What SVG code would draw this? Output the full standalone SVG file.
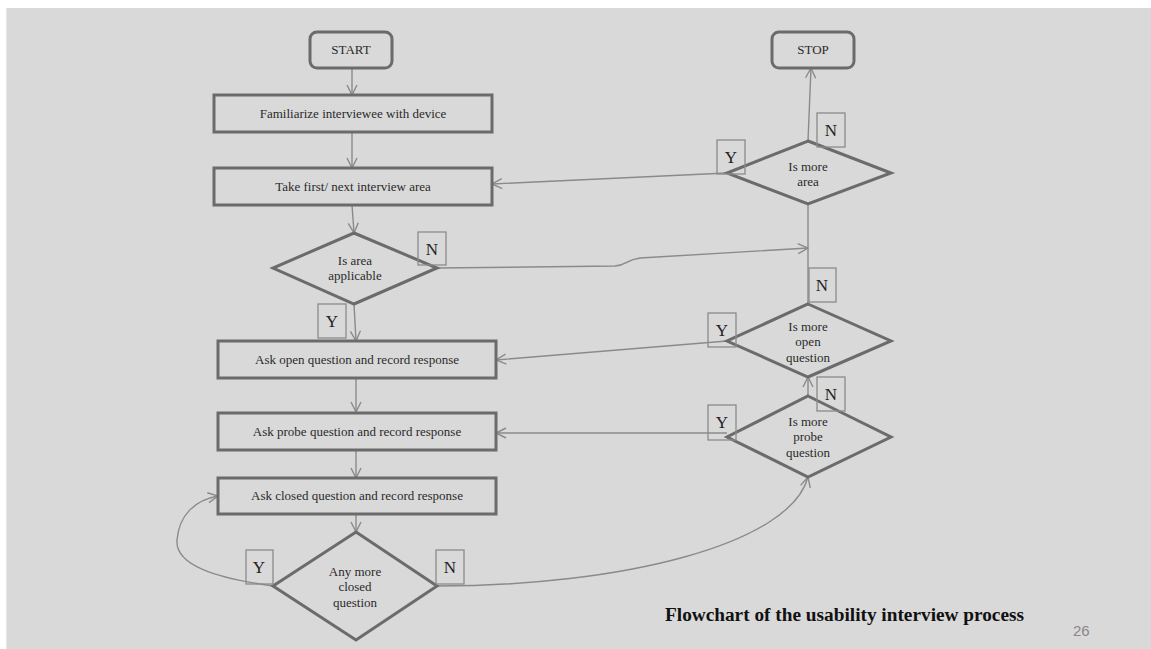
<svg xmlns="http://www.w3.org/2000/svg" width="1151" height="649" viewBox="0 0 1151 649">
<style>
.bg{fill:#d9d9d9}
.box{fill:none;stroke:#6b6b6b;stroke-width:3}
.dia{fill:none;stroke:#6b6b6b;stroke-width:3;stroke-linejoin:miter}
.lbl{fill:none;stroke:#8a8a8a;stroke-width:1.3}
.t{font-family:"Liberation Serif","Times New Roman",serif;font-size:13px;fill:#2a2a2a;text-anchor:middle}
.yn{font-family:"Liberation Serif","Times New Roman",serif;font-size:17px;fill:#222;text-anchor:middle}
.c{fill:none;stroke:#8a8a8a;stroke-width:1.4;marker-end:url(#ah)}
</style>
<defs>
<marker id="ah" viewBox="0 0 12 12" refX="11" refY="6" markerWidth="12" markerHeight="12" markerUnits="userSpaceOnUse" orient="auto">
<path d="M1,1 L11,6 L1,11" fill="none" stroke="#8a8a8a" stroke-width="1.4"/>
</marker>
</defs>
<rect class="bg" x="6" y="8" width="1145" height="641"/>
<line x1="6.5" y1="8" x2="6.5" y2="649" stroke="#e8e8e8" stroke-width="1"/>

<g id="connectors">
<line class="c" x1="352" y1="68" x2="352" y2="95"/>
<line class="c" x1="352" y1="132" x2="352" y2="168"/>
<line class="c" x1="352" y1="205" x2="354" y2="233"/>
<line class="c" x1="354" y1="304" x2="356" y2="341"/>
<line class="c" x1="356" y1="378" x2="356" y2="412"/>
<line class="c" x1="356" y1="450" x2="356" y2="478"/>
<line class="c" x1="356" y1="514" x2="356" y2="532"/>
<line class="c" x1="808" y1="141" x2="811" y2="68"/>
<line class="c" x1="727" y1="173" x2="492" y2="184"/>
<line class="c" x1="727" y1="341" x2="496" y2="360"/>
<line class="c" x1="727" y1="433" x2="496" y2="433"/>
<line class="c" x1="808" y1="396" x2="808" y2="377"/>
<line x1="808" y1="304" x2="808" y2="204" stroke="#8a8a8a" stroke-width="1.4"/>
<path class="c" d="M437,268 L615,266 C628,265 625,260 640,258 L808,248"/>
<path class="c" d="M273,586 C215,578 175,565 177,540 C179,515 195,500 218,496"/>
<path class="c" d="M437,586 C620,586 790,545 808,477"/>
</g>

<g id="start">
<rect class="box" x="310" y="32" width="82" height="36" rx="7"/>
<text class="t" x="351" y="54">START</text>
</g>
<g id="stop">
<rect class="box" x="772" y="32" width="82" height="36" rx="7"/>
<text class="t" x="813" y="54">STOP</text>
</g>
<g id="familiarize">
<rect class="box" x="214" y="95" width="278" height="37"/>
<text class="t" x="353" y="118">Familiarize interviewee with device</text>
</g>
<g id="take-area">
<rect class="box" x="214" y="168" width="278" height="37"/>
<text class="t" x="353" y="191">Take first/ next interview area</text>
</g>
<g id="area-applicable">
<polygon class="dia" points="354,233 437,268 354,304 273,268"/>
<text class="t" x="355" y="265">Is area</text>
<text class="t" x="355" y="280">applicable</text>
<rect class="lbl" x="418" y="232" width="28" height="33"/>
<text class="yn" x="432" y="255">N</text>
<rect class="lbl" x="318" y="304" width="28" height="34"/>
<text class="yn" x="332" y="327">Y</text>
</g>
<g id="ask-open">
<rect class="box" x="218" y="341" width="278" height="37"/>
<text class="t" x="357" y="364">Ask open question and record response</text>
</g>
<g id="ask-probe">
<rect class="box" x="218" y="413" width="278" height="37"/>
<text class="t" x="357" y="436">Ask probe question and record response</text>
</g>
<g id="ask-closed">
<rect class="box" x="218" y="478" width="278" height="36"/>
<text class="t" x="357" y="500">Ask closed question and record response</text>
</g>
<g id="more-closed">
<polygon class="dia" points="356,532 437,586 356,640 273,586"/>
<text class="t" x="355" y="576">Any more</text>
<text class="t" x="355" y="591">closed</text>
<text class="t" x="355" y="607">question</text>
<rect class="lbl" x="246" y="550" width="27" height="34"/>
<text class="yn" x="259" y="573">Y</text>
<rect class="lbl" x="436" y="550" width="28" height="34"/>
<text class="yn" x="450" y="573">N</text>
</g>
<g id="more-area">
<polygon class="dia" points="808,141 891,173 808,204 727,173"/>
<text class="t" x="808" y="171">Is more</text>
<text class="t" x="808" y="186">area</text>
<rect class="lbl" x="817" y="113" width="28" height="34"/>
<text class="yn" x="831" y="136">N</text>
<rect class="lbl" x="717" y="140" width="28" height="34"/>
<text class="yn" x="731" y="163">Y</text>
</g>
<g id="more-open">
<polygon class="dia" points="808,304 891,341 808,377 727,341"/>
<text class="t" x="808" y="331">Is more</text>
<text class="t" x="808" y="346">open</text>
<text class="t" x="808" y="362">question</text>
<rect class="lbl" x="809" y="268" width="27" height="34"/>
<text class="yn" x="822" y="291">N</text>
<rect class="lbl" x="708" y="313" width="28" height="34"/>
<text class="yn" x="722" y="336">Y</text>
</g>
<g id="more-probe">
<polygon class="dia" points="808,396 891,437 808,477 727,437"/>
<text class="t" x="808" y="426">Is more</text>
<text class="t" x="808" y="441">probe</text>
<text class="t" x="808" y="457">question</text>
<rect class="lbl" x="817" y="377" width="28" height="34"/>
<text class="yn" x="831" y="400">N</text>
<rect class="lbl" x="708" y="405" width="28" height="35"/>
<text class="yn" x="722" y="428">Y</text>
</g>
<text x="665" y="621" font-family="'Liberation Serif','Times New Roman',serif" font-size="19.3" font-weight="bold" fill="#111">Flowchart of the usability interview process</text>
<text x="1073" y="636" font-family="'Liberation Sans',Arial,sans-serif" font-size="15" fill="#888">26</text>
</svg>
